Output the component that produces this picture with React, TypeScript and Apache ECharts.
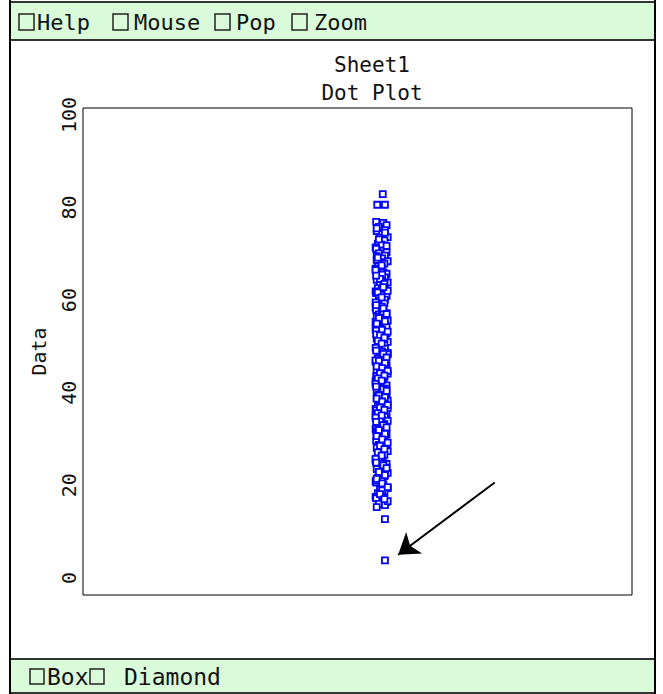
import React, { useEffect, useRef } from "react";
import * as echarts from "echarts";

// ---- data ----
const yTickLabels = [0, 20, 40, 60, 80, 100];

const columnValues = [
  76.9, 76.7, 76.2, 75.8, 75.1, 74.9, 74.3, 73.6, 73.5, 72.9, 72.2, 72.0, 71.4, 71.1, 70.7, 70.3, 70.1,
  69.6, 69.5, 69.0, 68.4, 68.2, 67.9, 67.3, 67.0, 66.8, 66.2, 66.0, 65.7, 65.1, 64.9, 64.4, 64.2, 63.8,
  63.3, 63.1, 62.6, 62.4, 61.9, 61.5, 61.2, 60.9, 60.4, 60.1, 68.7, 65.5, 62.0,
  59.8, 59.3, 59.1, 58.6, 58.4, 57.9, 57.8, 57.2, 56.9, 56.5, 56.4, 55.8, 55.6, 55.1, 54.7, 54.5, 54.0,
  53.9, 53.4, 53.0, 52.8, 52.3, 52.1, 51.7, 51.4, 51.0, 50.8, 50.3, 50.2, 58.0, 55.3, 52.6, 57.5, 54.2,
  49.9, 49.5, 49.3, 48.8, 48.6, 48.1, 47.9, 47.4, 47.2, 46.8, 46.6, 46.1, 45.9, 45.5, 45.2, 44.9, 44.6,
  44.1, 43.9, 43.4, 43.3, 42.8, 42.5, 42.2, 41.8, 41.6, 41.1, 40.9, 40.5, 40.2, 48.3, 46.3, 44.4, 42.0,
  40.7, 47.0, 43.6, 45.0,
  39.8, 39.6, 39.2, 38.9, 38.5, 38.3, 37.8, 37.6, 37.1, 36.9, 36.5, 36.2, 35.9, 35.4, 35.2, 34.8, 34.5,
  34.1, 33.9, 33.4, 33.2, 32.8, 32.4, 32.2, 31.7, 31.5, 31.0, 30.8, 30.4, 30.1, 38.0, 36.7, 34.3, 32.6,
  31.3, 37.4, 35.0,
  29.7, 29.4, 29.0, 28.7, 28.3, 28.1, 27.6, 27.4, 26.9, 26.6, 26.3, 26.0, 25.5, 25.3, 24.8, 24.6, 24.1,
  23.8, 23.5, 23.0, 22.7, 22.5, 22.0, 21.6, 21.3, 20.9, 20.6, 20.2, 28.9, 25.9, 23.3, 21.0,
  19.8, 19.4, 19.1, 18.6, 18.3, 17.9, 17.5, 17.2, 16.8, 16.4, 16.0, 15.7, 15.3, 18.9, 16.6,
  64.6, 63.5, 61.7, 60.6, 59.5, 58.9, 58.2, 57.0, 56.1, 55.4, 54.9, 53.6, 53.2, 52.4, 51.9, 51.2, 50.6,
  49.7, 49.1, 48.4, 47.6, 46.9, 46.4, 45.7, 45.3, 44.7, 44.2, 43.7, 43.1, 42.6, 41.9, 41.3, 40.8, 40.4,
  39.4, 39.0, 38.7, 38.1, 37.3, 36.8, 36.3, 35.6, 35.1, 34.6, 33.7, 33.0, 32.5, 31.9, 31.1, 30.6, 29.9,
  29.2, 28.5, 27.8, 27.1, 26.4, 25.7, 24.9, 24.3, 23.7, 22.9, 22.2, 21.4, 20.4, 19.6, 18.1, 17.0, 69.2,
  67.5, 66.5, 65.3, 62.8, 71.7, 73.1, 74.6, 75.5,
];
const columnJitter = [-1.0, 0.3, 0.9, -0.5, 0.6, -0.9, 0.1, 1.1, -0.3, 0.5, -0.7, 0.0, -1.1];
const columnCenter = 54.4;

const isolatedValues = [82.9, 80.6, 80.6, 12.7, 3.8];
const isolatedOffsets = [0.2, -0.8, 0.6, 0.6, 0.6];

const arrowFrom = [75.0, 20.6];
const arrowTo = [57.4, 5.0];

const topMenu = ["Help", "Mouse", "Pop", "Zoom"];
const bottomMenu = ["Box", "Diamond"];
const titleLines = ["Sheet1", "Dot Plot"];
const yAxisName = "Data";

const FONT = "DejaVu Sans Mono";

export default function App() {
  const ref = useRef<HTMLDivElement>(null);

  useEffect(() => {
    const chart = echarts.init(ref.current!, null, { renderer: "svg" });

    const points: number[][] = columnValues.map((v, i) => [
      columnCenter + columnJitter[i % columnJitter.length],
      v,
    ]);
    isolatedValues.forEach((v, i) => points.push([columnCenter + isolatedOffsets[i], v]));

    const barFill = "#d9fbd9";
    const menuBoxes: any[] = [];
    const topBoxX = [19, 113, 215, 292];
    const topTextX = [37, 134, 236, 314];
    topMenu.forEach((t, i) => {
      menuBoxes.push({
        type: "rect",
        shape: { x: topBoxX[i], y: 14, width: 15, height: 16 },
        style: { fill: "none", stroke: "#222", lineWidth: 1.5 },
      });
      menuBoxes.push({
        type: "text",
        style: {
          text: t, x: topTextX[i], y: 22, fill: "#111",
          fontSize: 22, fontFamily: FONT, align: "left", verticalAlign: "middle",
        },
      });
    });
    const botBoxX = [30, 90];
    const botTextX = [47, 124];
    bottomMenu.forEach((t, i) => {
      menuBoxes.push({
        type: "rect",
        shape: { x: botBoxX[i], y: 669, width: 14, height: 15 },
        style: { fill: "none", stroke: "#222", lineWidth: 1.5 },
      });
      menuBoxes.push({
        type: "text",
        style: {
          text: t, x: botTextX[i], y: 677, fill: "#111",
          fontSize: 23, fontFamily: FONT, align: "left", verticalAlign: "middle",
        },
      });
    });

    chart.setOption({
      animation: false,
      backgroundColor: "#ffffff",
      grid: {
        left: 83, top: 108, width: 549, height: 487,
        show: true, borderColor: "#000", borderWidth: 1, backgroundColor: "transparent",
      },
      xAxis: {
        type: "value", min: 0, max: 100, show: false,
      },
      yAxis: {
        type: "value",
        min: -3.7,
        max: 101.5,
        axisLine: { show: false },
        axisTick: { show: false },
        splitLine: { show: false },
        axisLabel: {
          customValues: yTickLabels,
          rotate: 90,
          margin: 4,
          color: "#111",
          fontSize: 20,
          fontFamily: FONT,
        },
        name: yAxisName,
        nameLocation: "middle",
        nameRotate: 90,
        nameGap: 34,
        nameTextStyle: { color: "#111", fontSize: 20, fontFamily: FONT },
      },
      series: [
        {
          type: "scatter",
          data: points,
          symbol: "rect",
          symbolSize: 6,
          itemStyle: { color: "#ffffff", borderColor: "#0000ff", borderWidth: 1.8, opacity: 1 },
          emphasis: { disabled: true },
          markLine: {
            silent: true,
            symbol: ["none", "arrow"],
            symbolSize: 20,
            label: { show: false },
            lineStyle: { color: "#000", width: 2, type: "solid" },
            emphasis: { disabled: true },
            data: [[{ coord: arrowFrom }, { coord: arrowTo }]],
          },
        },
      ],
      graphic: [
        {
          type: "rect",
          shape: { x: 10, y: 2, width: 645, height: 38 },
          style: { fill: barFill, stroke: "#333", lineWidth: 2 },
        },
        {
          type: "rect",
          shape: { x: 10, y: 659, width: 645, height: 34 },
          style: { fill: barFill, stroke: "#333", lineWidth: 2 },
        },
        {
          type: "line",
          shape: { x1: 10, y1: 0, x2: 10, y2: 694 },
          style: { stroke: "#000", lineWidth: 2 },
        },
        {
          type: "line",
          shape: { x1: 655, y1: 0, x2: 655, y2: 694 },
          style: { stroke: "#000", lineWidth: 2 },
        },
        ...menuBoxes,
        {
          type: "text",
          style: {
            text: titleLines[0], x: 372, y: 65, fill: "#111",
            fontSize: 21, fontFamily: FONT, align: "center", verticalAlign: "middle",
          },
        },
        {
          type: "text",
          style: {
            text: titleLines[1], x: 372, y: 93, fill: "#111",
            fontSize: 21, fontFamily: FONT, align: "center", verticalAlign: "middle",
          },
        },
      ],
    });

    return () => chart.dispose();
  }, []);

  return (
    <div
      ref={ref}
      style={{ position: "fixed", left: 0, top: 0, width: 663, height: 694, background: "#fff" }}
    />
  );
}
